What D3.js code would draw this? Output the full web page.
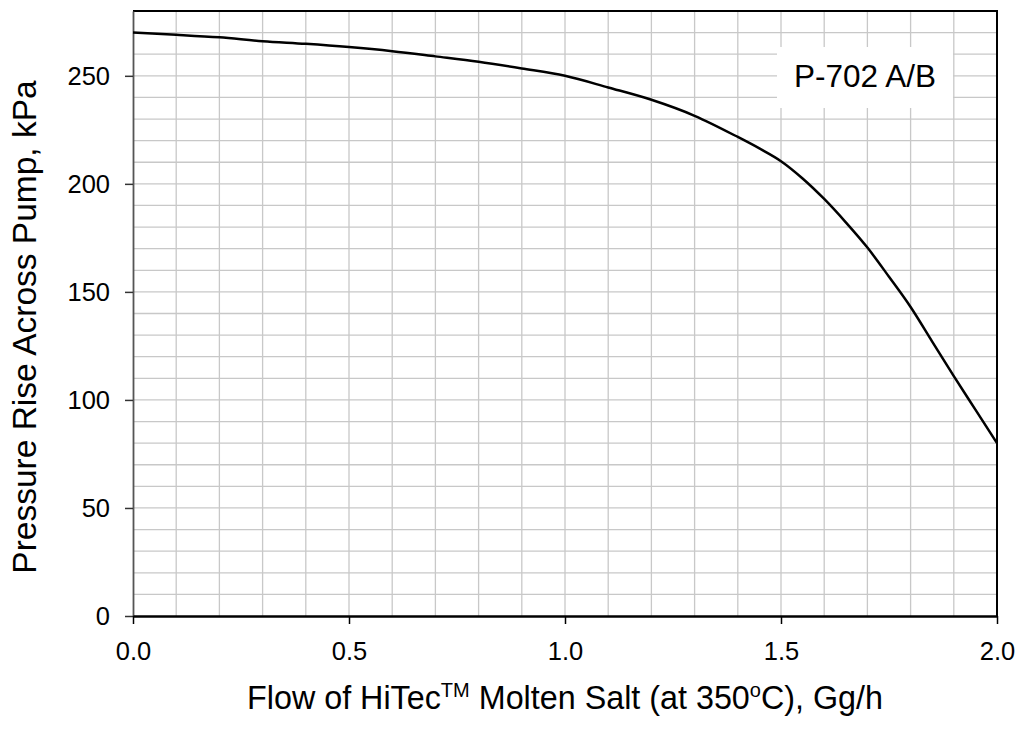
<!DOCTYPE html>
<html>
<head>
<meta charset="utf-8">
<script src="https://cdn.jsdelivr.net/npm/d3@7"></script>
<style>
  body { margin: 0; background: #fff; }
  text { font-family: "Liberation Sans", Arial, sans-serif; fill: #000; }
</style>
</head>
<body>
<script>
// pump curve
const flow = [0, 0.1, 0.2, 0.3, 0.4, 0.5, 0.6, 0.7, 0.8, 0.9, 1.0, 1.1, 1.2, 1.3, 1.4, 1.45,
  1.5, 1.55, 1.6, 1.65, 1.7, 1.75, 1.8, 1.85, 1.9, 1.95, 2.0];
const pressure = [270, 269, 267.8, 266, 264.8, 263.3, 261.4, 259, 256.5, 253.4, 250, 244.6, 238.9, 231.5, 221.7, 216.4,
  210.5, 202.5, 193, 182.2, 170.5, 157, 143, 127, 111, 95.5, 80];
const xTicks = [0, 0.5, 1.0, 1.5, 2.0];
const yTicks = [0, 50, 100, 150, 200, 250];
const pumpLabel = "P-702 A/B";

const width = 1021;
const height = 736;
const padL = 133, padR = 997, padT = 11, padB = 616;

const svg = d3.select("body").append("svg").attr("width", width).attr("height", height);

const xScale = d3.scaleLinear().domain([0, 2]).range([padL, padR]);
const yScale = d3.scaleLinear().domain([0, 280]).range([padB, padT]);

/** 目盛り線 (0.1 と 10 ごと) */
const grid = svg.append("g").attr("stroke", "#c8c8c8").attr("stroke-width", 1.3);
grid.selectAll(".gx").data(d3.range(1, 20).map(i => i / 10)).enter()
  .append("line")
  .attr("x1", d => xScale(d)).attr("x2", d => xScale(d))
  .attr("y1", padT).attr("y2", padB);
grid.selectAll(".gy").data(d3.range(10, 280, 10)).enter()
  .append("line")
  .attr("x1", padL).attr("x2", padR)
  .attr("y1", d => yScale(d)).attr("y2", d => yScale(d));

/** ラベルの白い箱 */
svg.append("rect")
  .attr("x", 777).attr("y", 47).attr("width", 176).attr("height", 61)
  .attr("fill", "#fff");
svg.append("text")
  .attr("x", 865).attr("y", 87)
  .attr("text-anchor", "middle")
  .style("font-size", "31.5px")
  .text(pumpLabel);

/** 枠 */
svg.append("line").attr("x1", padL).attr("x2", padR + 1).attr("y1", padT).attr("y2", padT)
  .attr("stroke", "#000").attr("stroke-width", 2);
svg.append("line").attr("x1", padR).attr("x2", padR).attr("y1", padT).attr("y2", padB)
  .attr("stroke", "#000").attr("stroke-width", 2);

/** 軸 */
const axisx = d3.axisBottom(xScale).tickValues(xTicks).tickFormat(d3.format(".1f"))
  .tickSizeInner(8).tickSizeOuter(0).tickPadding(18);
const axisy = d3.axisLeft(yScale).tickValues(yTicks)
  .tickSizeInner(8).tickSizeOuter(0).tickPadding(15);

const gy = svg.append("g")
  .attr("transform", "translate(" + padL + ",0)")
  .call(axisy);
gy.select(".domain").attr("stroke", "#555").attr("stroke-width", 1.8);
gy.selectAll(".tick line").attr("stroke", "#333").attr("stroke-width", 1.5);
gy.selectAll(".tick text").style("font-size", "25.5px")
  .attr("font-family", null).attr("dy", "0.35em");

const gx = svg.append("g")
  .attr("transform", "translate(0," + padB + ")")
  .call(axisx);
gx.select(".domain").attr("stroke", "#000").attr("stroke-width", 2.5);
gx.selectAll(".tick line").attr("stroke", "#000").attr("stroke-width", 1.5);
gx.selectAll(".tick text").style("font-size", "25.5px").attr("font-family", null);

/** 曲線 */
const line = d3.line()
  .x((d, i) => xScale(flow[i]))
  .y(d => yScale(d))
  .curve(d3.curveMonotoneX);
svg.append("path")
  .datum(pressure)
  .attr("d", line)
  .attr("fill", "none")
  .attr("stroke", "#000")
  .attr("stroke-width", 2.5);

/** 軸タイトル */
const xt = svg.append("text")
  .attr("x", (padL + padR) / 2).attr("y", 709)
  .attr("text-anchor", "middle")
  .style("font-size", "32.3px");
xt.append("tspan").text("Flow of HiTec");
xt.append("tspan").attr("dy", -12).style("font-size", "20px").text("TM");
xt.append("tspan").attr("dy", 12).text(" Molten Salt (at 350");
xt.append("tspan").attr("dy", -12).style("font-size", "20px").text("o");
xt.append("tspan").attr("dy", 12).text("C), Gg/h");

svg.append("text")
  .attr("transform", "translate(36," + 327 + ") rotate(-90)")
  .attr("text-anchor", "middle")
  .style("font-size", "33.5px")
  .text("Pressure Rise Across Pump, kPa");
</script>
</body>
</html>
